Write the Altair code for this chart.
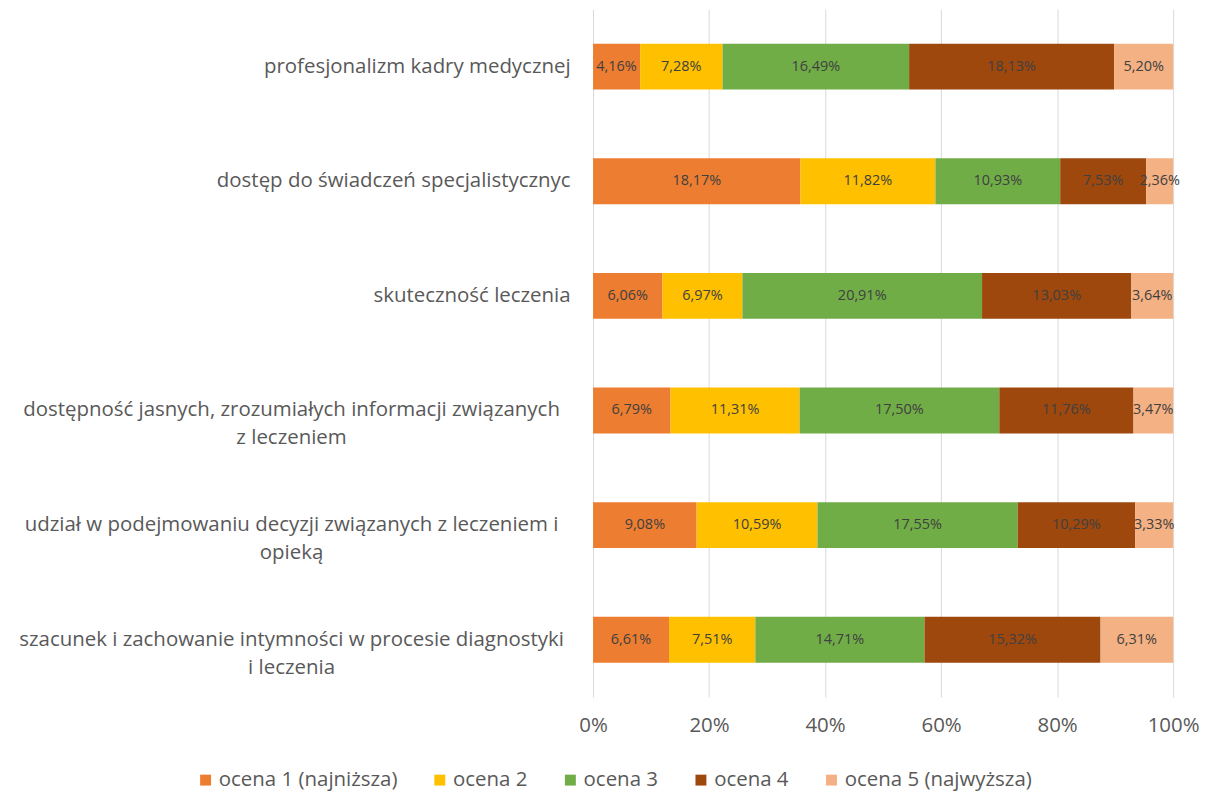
import altair as alt
import pandas as pd

categories = [
    "profesjonalizm kadry medycznej",
    "dostęp do świadczeń specjalistycznyc",
    "skuteczność leczenia",
    "dostępność jasnych, zrozumiałych informacji związanych|z leczeniem",
    "udział w podejmowaniu decyzji związanych z leczeniem i|opieką",
    "szacunek i zachowanie intymności w procesie diagnostyki|i leczenia",
]
ratings = ["ocena 1 (najniższa)", "ocena 2", "ocena 3", "ocena 4", "ocena 5 (najwyższa)"]
ocena1 = [4.16, 18.17, 6.06, 6.79, 9.08, 6.61]
ocena2 = [7.28, 11.82, 6.97, 11.31, 10.59, 7.51]
ocena3 = [16.49, 10.93, 20.91, 17.50, 17.55, 14.71]
ocena4 = [18.13, 7.53, 13.03, 11.76, 10.29, 15.32]
ocena5 = [5.20, 2.36, 3.64, 3.47, 3.33, 6.31]
colors = ["#ED7D31", "#FFC000", "#70AD47", "#9E480E", "#F4B183"]

series = [ocena1, ocena2, ocena3, ocena4, ocena5]
rows = []
for ri, (r, vals) in enumerate(zip(ratings, series)):
    for c, v in zip(categories, vals):
        rows.append({"category": c, "rating": r, "order": ri, "value": v})
df = pd.DataFrame(rows)

FONT = "Open Sans"
GRAY = "#595959"
FS = 20.5

base = alt.Chart(df).transform_joinaggregate(
    total="sum(value)", groupby=["category"]
).transform_calculate(
    frac="datum.value / datum.total"
).transform_window(
    cum="sum(frac)", sort=[alt.SortField("order")], groupby=["category"], frame=[None, 0]
).transform_calculate(
    start="datum.cum - datum.frac",
    mid="datum.cum - datum.frac / 2",
    label="replace(format(datum.value, '.2f'), '.', ',') + '%'",
)

y_enc = alt.Y(
    "category:N",
    sort=categories,
    scale=alt.Scale(paddingInner=0.6, paddingOuter=0.3),
    axis=alt.Axis(
        title=None,
        domain=False,
        ticks=False,
        grid=False,
        labelExpr="split(datum.label, '|')",
        labelFont=FONT,
        labelFontSize=FS,
        labelColor=GRAY,
        labelLineHeight=28,
        labelLimit=1000,
        labelAlign={"condition": {"test": "indexof(datum.value, '|') >= 0", "value": "center"}, "value": "right"},
        labelPadding={"condition": {"test": "indexof(datum.value, '|') >= 0", "value": 303}, "value": 23},
        minExtent=587,
        maxExtent=587,
    ),
)

bars = base.mark_bar().encode(
    x=alt.X(
        "start:Q",
        scale=alt.Scale(domain=[0, 1], nice=False),
        axis=alt.Axis(
            title=None,
            format="%",
            values=[0, 0.2, 0.4, 0.6, 0.8, 1.0],
            domain=False,
            ticks=False,
            grid=True,
            gridColor="#D9D9D9",
            gridWidth=1,
            labelFont=FONT,
            labelFontSize=FS,
            labelColor=GRAY,
            labelPadding=19,
            labelFlush=False,
        ),
    ),
    x2="cum:Q",
    y=y_enc,
    color=alt.Color(
        "rating:N",
        sort=ratings,
        scale=alt.Scale(domain=ratings, range=colors),
        legend=alt.Legend(
            title=None,
            orient="none",
            legendX=-399,
            legendY=763,
            direction="horizontal",
            columns=5,
            symbolType="square",
            symbolSize=120,
            symbolStrokeWidth=0,
            labelFont=FONT,
            labelFontSize=FS,
            labelColor=GRAY,
            labelOffset=3,
            labelLimit=400,
            columnPadding=32,
        ),
    ),
    order=alt.Order("order:Q"),
)

texts = base.mark_text(font=FONT, fontSize=14.5, color="#404040").encode(
    x=alt.X("mid:Q"),
    y=alt.Y("category:N", sort=categories),
    text="label:N",
)

chart = alt.layer(bars, texts).properties(
    width=582,
    height=690,
    padding={"left": 0, "top": 0, "right": 5, "bottom": 5},
).configure_view(stroke=None)

chart.save("out.html", embed_options={"renderer": "svg", "actions": False})
